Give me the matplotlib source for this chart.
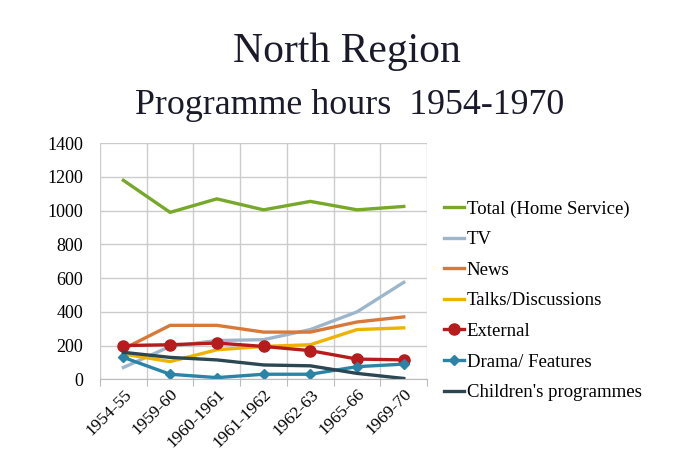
import matplotlib
matplotlib.use("Agg")
import matplotlib.pyplot as plt

categories = ["1954-55", "1959-60", "1960-1961", "1961-1962", "1962-63", "1965-66", "1969-70"]
total = [1180, 990, 1070, 1005, 1055, 1005, 1025]
tv = [70, 195, 230, 235, 295, 400, 575]
news = [180, 320, 320, 280, 280, 340, 370]
talks = [150, 105, 175, 195, 205, 295, 305]
external = [200, 205, 215, 195, 170, 120, 115]
drama = [130, 30, 10, 30, 30, 75, 90]
children = [160, 130, 115, 85, 80, 35, 5]
yticks = [0, 200, 400, 600, 800, 1000, 1200, 1400]

plt.rcParams['font.family'] = ['Liberation Serif', 'DejaVu Serif']

fig = plt.figure(figsize=(6.78, 4.62), dpi=100)
fig.patch.set_facecolor('white')
ax = fig.add_axes([0.1475, 0.179, 0.4825, 0.511])

x = list(range(len(categories)))
lw = 2.4
ax.plot(x, total, color='#77a82a', lw=lw, label='Total (Home Service)')
ax.plot(x, tv, color='#9db6cc', lw=lw, label='TV')
ax.plot(x, news, color='#d8793a', lw=lw, label='News')
ax.plot(x, talks, color='#eeb300', lw=lw, label='Talks/Discussions')
ax.plot(x, external, color='#b71c1c', lw=lw, marker='o', ms=8, label='External')
ax.plot(x, drama, color='#2b84a6', lw=lw, marker='D', ms=5, label='Drama/ Features')
ax.plot(x, children, color='#2a4752', lw=lw, label="Children's programmes")

ax.set_xlim(-0.5, len(categories) - 0.5)
ax.set_ylim(0, 1400)
ax.set_yticks(yticks)
ax.set_yticklabels([str(v) for v in yticks], fontsize=13)
ax.set_xticks([i + 0.5 for i in range(-1, len(categories))], minor=False)
ax.set_xticklabels([])
ax.set_xticks(x, minor=True)
ax.set_xticklabels(categories, minor=True, rotation=45, ha='right', rotation_mode='anchor', fontsize=12.5)
ax.tick_params(axis='x', which='minor', length=0, pad=5)
ax.tick_params(axis='x', which='major', length=5, color='#bbbbbb')
ax.tick_params(axis='y', length=0, pad=12)
ax.grid(True, which='major', color='#cccccc', lw=1)
for s in ['top', 'right', 'left']:
    ax.spines[s].set_visible(False)
ax.spines['bottom'].set_color('#bbbbbb')
ax.set_axisbelow(True)

ax.legend(loc='upper left', bbox_to_anchor=(1.0, 0.83), frameon=False, fontsize=13.5,
          handlelength=1.05, handletextpad=0.15, labelspacing=0.72, borderaxespad=0.5)

fig.text(0.512, 0.888, "North Region", ha='center', va='center', fontsize=30, color='#1a1a2a')
fig.text(0.516, 0.772, "Programme hours  1954-1970", ha='center', va='center', fontsize=25.8, color='#1a1a2a')

fig.savefig('out.png', dpi=100)
